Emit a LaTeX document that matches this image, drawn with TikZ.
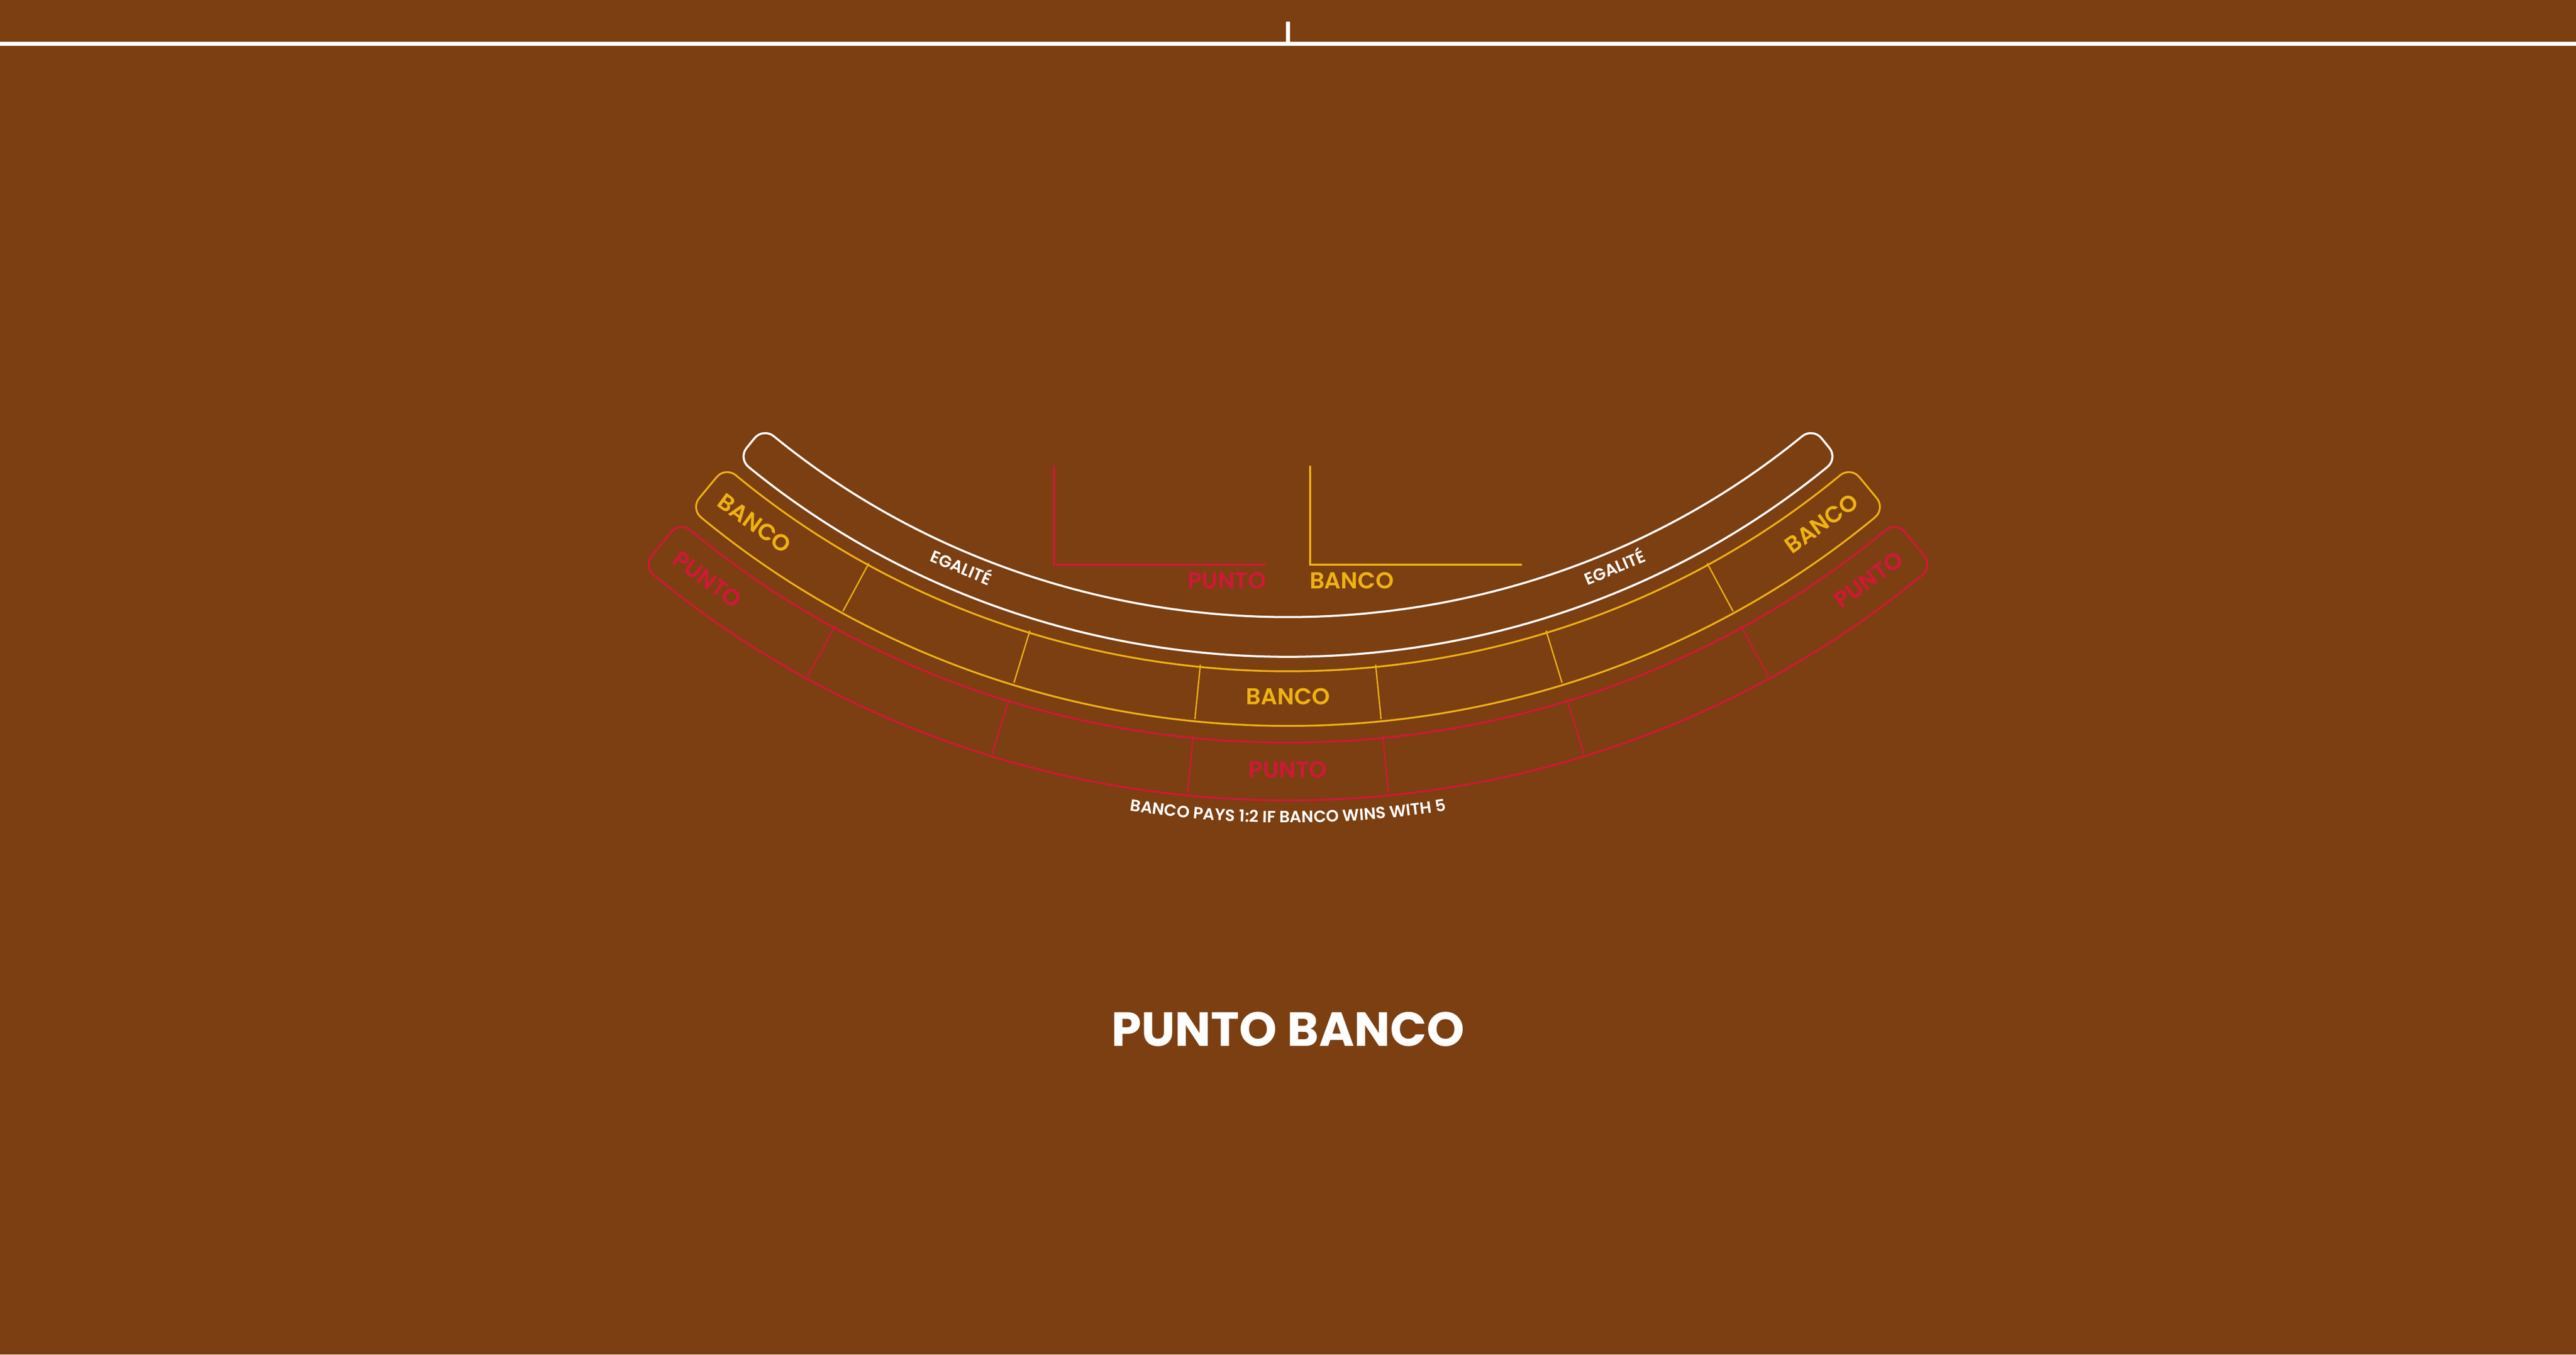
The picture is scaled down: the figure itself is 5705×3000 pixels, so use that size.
\documentclass[tikz,border=0pt]{standalone}
\usepackage{fontspec}
\setmainfont{Poppins}
\newfontfamily\semifont{Poppins SemiBold}
\usetikzlibrary{decorations.text}
\definecolor{felt}{HTML}{7C3F11}
\definecolor{gold}{HTML}{EEB211}
\definecolor{crimson}{HTML}{D01838}
\begin{document}
\begin{tikzpicture}[x=0.01cm, y=0.01cm]
	\tikzstyle{none}=[inner sep=0pt]
	\tikzstyle{rim}=[-,draw=white,line width=2.56pt]
	\tikzstyle{white box}=[-,draw=white,line width=1.3pt,rounded corners=0.3cm]
	\tikzstyle{gold box}=[-,draw=gold,line width=1.15pt,rounded corners=0.3cm]
	\tikzstyle{red box}=[-,draw=crimson,line width=1.15pt,rounded corners=0.3cm]
	\tikzstyle{gold simple}=[-,draw=gold,line width=0.85pt]
	\tikzstyle{red simple}=[-,draw=crimson,line width=0.85pt]
	\tikzstyle{gold corner}=[-,draw=gold,line width=1.3pt]
	\tikzstyle{red corner}=[-,draw=crimson,line width=1.3pt]
	\tikzstyle{bet}=[inner sep=0pt,anchor=base,font=\semifont\fontsize{14.5}{14.5}\selectfont]
	\tikzstyle{tie}=[inner sep=0pt,anchor=base,text=white,font=\semifont\fontsize{10.5}{10.5}\selectfont]
	\tikzstyle{title}=[inner sep=0pt,anchor=base,text=white,font=\bfseries\fontsize{30.2}{30.2}\selectfont]

		\fill [color=felt] (-2852.5, -3473) rectangle (2852.5, -473);
		\useasboundingbox (-2852.5, -3473) rectangle (2852.5, -473);

		\node [style=none] (0) at (-2852.5, -570) {};
		\node [style=none] (1) at (2852.5, -570) {};
		\node [style=none] (2) at (0, -521) {};
		\node [style=none] (3) at (0, -570) {};
		\node [style=none] (4) at (-518, -1504) {};
		\node [style=none] (5) at (-518, -1723) {};
		\node [style=none] (6) at (-49.5, -1723) {};
		\node [style=none] (7) at (49.5, -1504) {};
		\node [style=none] (8) at (49.5, -1723) {};
		\node [style=none] (9) at (518, -1723) {};
		\node [style=bet, text=crimson, anchor=base east] (10) at (-47.5, -1777) {PUNTO};
		\node [style=bet, text=gold, anchor=base west] (11) at (47.5, -1777) {BANCO};
		\node [style=bet, text=gold] (12) at (270:2033) {BANCO};
		\node [style=bet, text=crimson] (13) at (270:2195) {PUNTO};
		\node [style=bet, text=gold, rotate=-35.9] (14) at (234.1:2033) {BANCO};
		\node [style=bet, text=gold, rotate=35.9] (15) at (305.9:2033) {BANCO};
		\node [style=bet, text=crimson, rotate=-36.2] (16) at (233.8:2195) {PUNTO};
		\node [style=bet, text=crimson, rotate=36.2] (17) at (306.2:2195) {PUNTO};
		\node [style=tie, rotate=-22.7] (18) at (247.3:1889) {EGALITÉ};
		\node [style=tie, rotate=22.7] (19) at (292.7:1889) {EGALITÉ};
		\node [style=title] (20) at (0, -2790) {PUNTO BANCO};
		\node [style=none] (21) at (241.65:1955) {};
		\node [style=none] (22) at (241.65:2076) {};
		\node [style=none] (23) at (253:1955) {};
		\node [style=none] (24) at (253:2076) {};
		\node [style=none] (25) at (264.3:1955) {};
		\node [style=none] (26) at (264.3:2076) {};
		\node [style=none] (27) at (275.7:1955) {};
		\node [style=none] (28) at (275.7:2076) {};
		\node [style=none] (29) at (287:1955) {};
		\node [style=none] (30) at (287:2076) {};
		\node [style=none] (31) at (298.35:1955) {};
		\node [style=none] (32) at (298.35:2076) {};
		\node [style=none] (33) at (241.65:2113) {};
		\node [style=none] (34) at (241.65:2241) {};
		\node [style=none] (35) at (253:2113) {};
		\node [style=none] (36) at (253:2241) {};
		\node [style=none] (37) at (264.3:2113) {};
		\node [style=none] (38) at (264.3:2241) {};
		\node [style=none] (39) at (275.7:2113) {};
		\node [style=none] (40) at (275.7:2241) {};
		\node [style=none] (41) at (287:2113) {};
		\node [style=none] (42) at (287:2241) {};
		\node [style=none] (43) at (298.35:2113) {};
		\node [style=none] (44) at (298.35:2241) {};

		\draw [style=rim] (0.center) to (1.center);
		\draw [style=rim] (2.center) to (3.center);
		\draw [style=red corner] (4.center) to (5.center) to (6.center);
		\draw [style=gold corner] (7.center) to (8.center) to (9.center);
		\draw [style=white box] (230.7:1835) arc [start angle=230.7, end angle=309.3, radius=1835] -- (309.3:1923) arc [start angle=309.3, end angle=230.7, radius=1923] -- cycle;
		\draw [style=gold box] (230.4:1955) arc [start angle=230.4, end angle=309.6, radius=1955] -- (309.6:2076) arc [start angle=309.6, end angle=230.4, radius=2076] -- cycle;
		\draw [style=red box] (230.4:2113) arc [start angle=230.4, end angle=309.6, radius=2113] -- (309.6:2241) arc [start angle=309.6, end angle=230.4, radius=2241] -- cycle;
		\draw [style=gold simple] (21.center) to (22.center);
		\draw [style=gold simple] (23.center) to (24.center);
		\draw [style=gold simple] (25.center) to (26.center);
		\draw [style=gold simple] (27.center) to (28.center);
		\draw [style=gold simple] (29.center) to (30.center);
		\draw [style=gold simple] (31.center) to (32.center);
		\draw [style=red simple] (33.center) to (34.center);
		\draw [style=red simple] (35.center) to (36.center);
		\draw [style=red simple] (37.center) to (38.center);
		\draw [style=red simple] (39.center) to (40.center);
		\draw [style=red simple] (41.center) to (42.center);
		\draw [style=red simple] (43.center) to (44.center);
		\path [decorate, decoration={text along path, text align=center, text={|\semifont\fontsize{10.3}{10.3}\selectfont\color{white}|BANCO PAYS 1:2 IF BANCO WINS WITH 5}}] (245:2295) arc [start angle=245, end angle=295, radius=2295];

\end{tikzpicture}
\end{document}
